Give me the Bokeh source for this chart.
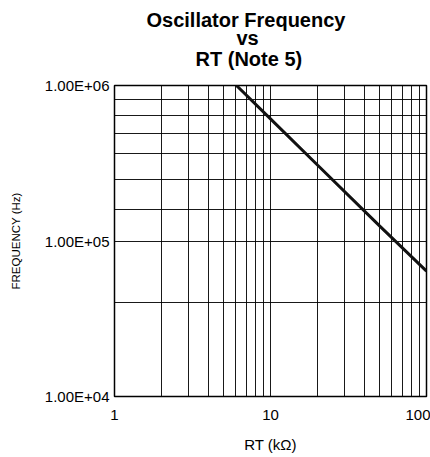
from bokeh.plotting import figure
from bokeh.models import FixedTicker, Title
from bokeh.embed import file_html
from bokeh.resources import INLINE

# ---- data ----
rt_kohm = [6.05, 10, 20, 50, 100]
freq_hz = [1.0e6, 6.1e5, 3.08e5, 1.25e5, 6.4e4]

x_tick_values = [1, 10, 100]
x_tick_labels = ["1", "10", "100"]
y_tick_values = [1e4, 1e5, 1e6]
y_tick_labels = ["1.00E+04", "1.00E+05", "1.00E+06"]

x_grid_values = [2, 3, 4, 5, 6, 7, 8, 9, 10, 20, 30, 40, 50, 60, 70, 80, 90]
y_grid_values = [4.0e4, 1.0e5, 1.6e5, 2.5e5, 3.65e5, 4.9e5, 6.4e5, 8.1e5]

title_lines = ["Oscillator Frequency", "vs", "RT (Note 5)"]
x_axis_title = "RT (k\u03a9)"
y_axis_title = "FREQUENCY (Hz)"

FONT = "Liberation Sans"

p = figure(width=430, height=457, x_axis_type="log", y_axis_type="log",
           x_range=(1, 100), y_range=(1e4, 1e6),
           output_backend="svg", toolbar_location=None, title=None,
           min_border_left=114, min_border_right=4,
           min_border_top=85, min_border_bottom=61)
p.background_fill_color = "white"
p.border_fill_color = "white"
p.outline_line_color = "black"
p.outline_line_width = 1.5

# grids
p.xgrid.ticker = FixedTicker(ticks=x_grid_values)
p.ygrid.ticker = FixedTicker(ticks=y_grid_values)
for g in (p.xgrid, p.ygrid):
    g.grid_line_color = "black"
    g.grid_line_width = 1
    g.grid_line_alpha = 0.9
    g.minor_grid_line_color = None

# axes
for ax in (p.xaxis, p.yaxis):
    ax.axis_line_color = None
    ax.major_tick_out = 0
    ax.major_tick_in = 0
    ax.minor_tick_out = 0
    ax.minor_tick_in = 0
    ax.axis_label_text_font = FONT
    ax.axis_label_text_font_style = "normal"
    ax.axis_label_text_color = "black"
    ax.major_label_text_font = FONT
    ax.major_label_text_color = "black"
    ax.major_label_text_font_size = "15px"

p.yaxis.ticker = FixedTicker(ticks=y_tick_values)
p.yaxis.major_label_overrides = {float(v): t for v, t in zip(y_tick_values, y_tick_labels)}
p.yaxis.major_label_standoff = 5
p.yaxis.axis_label = y_axis_title
p.yaxis.axis_label_text_font_size = "11.5px"
p.yaxis.axis_label_standoff = 20

p.xaxis.ticker = FixedTicker(ticks=x_tick_values)
p.xaxis.major_label_overrides = {float(v): t for v, t in zip(x_tick_values, x_tick_labels)}
p.xaxis.major_label_text_align = "right"
p.xaxis.major_label_standoff = 13
p.xaxis.axis_label = x_axis_title
p.xaxis.axis_label_text_font_size = "15px"
p.xaxis.axis_label_standoff = 13

# blank spacer between frame and title block
p.add_layout(Title(text=" ", text_font_size="10px", standoff=4,
                   text_font=FONT), "above")

# title block, innermost line first
title_offsets = [32, 122, 81]
title_standoffs = [-9, -3, -4]
for t, off, so in reversed(list(zip(title_lines, title_offsets, title_standoffs))):
    p.add_layout(Title(text=t, align="left", offset=off, vertical_align="middle",
                       standoff=so, text_font=FONT, text_font_size="20px",
                       text_font_style="bold", text_color="black"), "above")

# data line
p.line(rt_kohm, freq_hz, line_color="#111111", line_width=3)

open("out.html", "w").write(file_html(p, INLINE))
